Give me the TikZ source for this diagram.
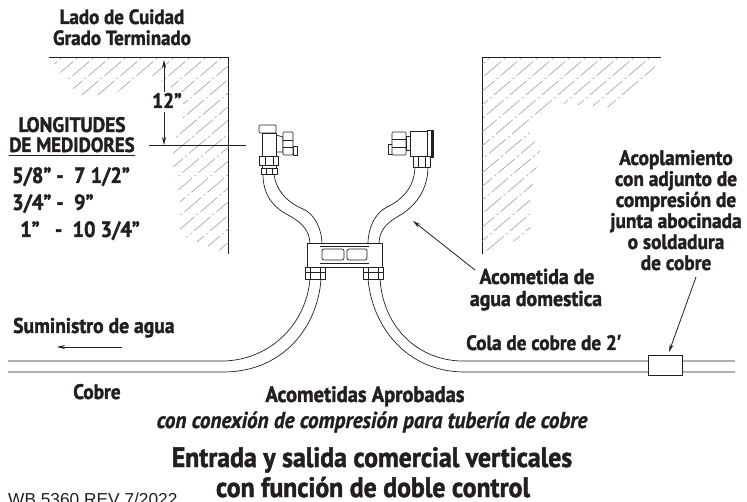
\documentclass[tikz,border=0pt]{standalone}
\usepackage{fontspec}
\setmainfont[FakeStretch=0.92,BoldFont={PT Sans Bold},ItalicFont={PT Sans Italic},BoldItalicFont={PT Sans Bold Italic},BoldFeatures={FakeBold=1.6},BoldItalicFeatures={FakeBold=1.2}]{PT Sans}
\newfontfamily\plainfont{Liberation Sans}
\newfontfamily\primefont[FakeStretch=0.92]{Liberation Sans}
\usetikzlibrary{arrows.meta}
\definecolor{ink}{HTML}{231F20}
\tikzset{
  lbl/.style={anchor=base,inner sep=0pt,text=ink,font=\fontsize{#1}{#1}\selectfont\bfseries},
  wall/.style={draw=ink,line width=1pt},
  hatch/.style={draw=black!40,line width=0.55pt,dash pattern=on 22pt off 3pt on 2pt off 3pt},
  part/.style={draw=ink,line width=0.7pt,fill=white,line join=round},
  pipe/.style={draw=ink,line width=0.7pt},
  lead/.style={draw=ink,line width=0.8pt,-{Stealth[length=8pt,width=4pt]}}
}
\begin{document}
\begin{tikzpicture}[x=1pt,y=-1pt]
\useasboundingbox (0,0) rectangle (747,502);
% walls
\draw[wall] (49,58) -- (228,58) -- (228,254);
\draw[wall] (661,58) -- (482,58) -- (482,254);
\begin{scope}
\clip (228.5,57) -- (49,57) -- (60,72) -- (80,97) -- (110,97) -- (145,72) -- (175,90) -- (183,122) -- (170,150) -- (180,200) -- (180,235) -- (228.5,254) -- cycle;
\foreach \k in {0,...,28}{\draw[hatch] (-220+16*\k,270) -- ++(260,-221);}
\end{scope}
\begin{scope}
\clip (481.5,57) -- (661,57) -- (650,75) -- (615,108) -- (555,103) -- (525,125) -- (540,150) -- (530,200) -- (530,235) -- (481.5,254) -- cycle;
\foreach \k in {0,...,28}{\draw[hatch] (240+16*\k,270) -- ++(260,-221);}
\end{scope}
% dimension
\coordinate (dimT) at (164,60); \coordinate (dimB) at (164,145);
\coordinate (dimM1) at (164,95); \coordinate (dimM2) at (164,112);
\coordinate (refL) at (149,145); \coordinate (refR) at (246,145);
\draw[wall,line width=.8pt] (refL) -- (refR);
\draw[lead] (dimM1) -- (dimT);
\draw[lead] (dimM2) -- (dimB);
% S pipes
\draw[pipe] (263,174) .. controls (263,195) and (273,207) .. (288,215) .. controls (300,221) and (310,230) .. (310,244);
\draw[pipe] (274,174) .. controls (276,192) and (290,204) .. (303,209) .. controls (315,214) and (322,230) .. (322,244);
\draw[pipe] (428,166) .. controls (428,195) and (410,210) .. (397,217) .. controls (385,224) and (379,232) .. (379,244);
\draw[pipe] (415,166) .. controls (415,190) and (398,202) .. (387,207) .. controls (375,213) and (368,228) .. (368,244);
% lower pipes
\draw[pipe] (8,361) -- (225,361) .. controls (270,359) and (306,325) .. (310,279);
\draw[pipe] (8,372) -- (225,372) .. controls (285,371) and (318,325) .. (321,279);
\draw[pipe] (380,279) .. controls (383,325) and (415,359) .. (460,361) -- (735,361);
\draw[pipe] (368,279) .. controls (372,325) and (405,371) .. (463,372) -- (735,372);
% manifold
\draw[part] (307,243) rectangle (382,267);
\draw[pipe] (320,246) -- (369,246) (320,263) -- (369,263);
\draw[part,rounded corners=2pt] (322,249) rectangle (344,260);
\draw[part,rounded corners=2pt] (347,249) rectangle (367,260);
% lower nuts
\draw[part] (305,267) rectangle (325,279);
\draw[pipe] (310,267) -- (310,279) (320,267) -- (320,279) (305,272) -- (325,272);
\draw[part] (363,267) rectangle (383,279);
\draw[pipe] (368,267) -- (368,279) (378,267) -- (378,279) (363,272) -- (383,272);
% left valve
\draw[part,rounded corners=1pt] (259,125) rectangle (276,133);
\draw[part] (293,146) rectangle (297,155);
\draw[part] (276,135) -- (283,137) -- (283,152) -- (276,152) -- cycle;
\draw[part,rounded corners=1pt] (283,132) rectangle (293,155);
\draw[pipe] (283,140) -- (293,140) (283,147) -- (293,147);
\draw[part] (262,133) rectangle (276,157);
\draw[part] (259,156) rectangle (278,165);
\draw[pipe] (265,156) -- (265,165) (273,156) -- (273,165);
\draw[part] (262,165) rectangle (276,168);
\draw[part] (261,168) rectangle (277,174);
\draw[pipe] (266,168) -- (266,174) (272,168) -- (272,174);
% right valve
\draw[part] (388,144) rectangle (392,154);
\draw[part,rounded corners=1pt] (392,132) rectangle (406,155);
\draw[pipe] (392,139) -- (406,139) (392,147) -- (406,147);
\draw[part] (406,136) rectangle (410,150);
\draw[part] (410,131) rectangle (427,156);
\draw[part] (427,130) rectangle (433,157);
\draw[draw=ink,line width=1.6pt] (432,130) -- (432,157);
\draw[part] (413,156) rectangle (430,167);
\draw[pipe] (418,156) -- (418,167) (425,156) -- (425,167);
% coupling
\node[draw=ink,line width=1pt,fill=white,minimum width=34pt,minimum height=20pt,inner sep=0pt] (cpl) at (665,366) {};
% leaders
\coordinate (supA) at (122,347); \coordinate (supB) at (57,347);
\draw[lead] (supA) -- (supB);
\coordinate (acoA) at (475,270); \coordinate (acoB) at (413,221);
\draw[lead] (acoA) -- (acoB);
\coordinate (cplA) at (696,277); \coordinate (cplB) at (669,352);
\draw[lead] (cplA) -- (cplB);
% texts
\node[lbl=20.6] (t1) at (122,24) {Lado de Cuidad};
\node[lbl=20.6] (t2) at (122,45) {Grado Terminado};
\node[lbl=21,fill=white,inner sep=1pt] (t3) at (167,108) {12"};
\node[lbl=21] (t4) at (72,132) {LONGITUDES};
\node[lbl=20.5] (t5) at (72,152) {DE MEDIDORES};
\draw[draw=ink,line width=.8pt] (t5.base west |- 0,155.5) -- (t5.base east |- 0,155.5);
\node[lbl=22,anchor=base west] (t6) at (12,183) {5/8" -\ \ 7 1/2"};
\node[lbl=22,anchor=base west] (t7) at (12,210) {3/4" -\ \ 9"};
\node[lbl=22,anchor=base west] (t8) at (20,237) {1"\ \ \ -\ \ 10 3/4"};
\node[lbl=21] (r1) at (676,165) {Acoplamiento};
\node[lbl=21] (r2) at (676,186) {con adjunto de};
\node[lbl=21] (r3) at (676,207) {compresión de};
\node[lbl=21] (r4) at (676,228) {junta abocinada};
\node[lbl=21] (r5) at (676,249) {o soldadura};
\node[lbl=21] (r6) at (676,270) {de cobre};
\node[lbl=21.5] (a1) at (537,284) {Acometida de};
\node[lbl=21.5] (a2) at (536,306) {agua domestica};
\node[lbl=20.8,anchor=base west] (c1) at (466,350) {Cola de cobre de 2{\primefont\bfseries ′}};
\node[lbl=21.3,anchor=base west] (s1) at (13,333) {Suministro de agua};
\node[lbl=21,anchor=base west] (s2) at (73,399) {Cobre};
\node[lbl=22.3] (b1) at (365,402) {Acometidas Aprobadas};
\node[lbl=23,font=\fontsize{23}{23}\selectfont\bfseries\itshape] (b2) at (372,428) {con conexión de compresión para tubería de cobre};
\node[lbl=28] (b3) at (372,467) {Entrada y salida comercial verticales};
\node[lbl=28] (b4) at (373,497) {con función de doble control};
\node[anchor=base west,inner sep=0pt,text=ink,font=\plainfont\fontsize{17.3}{17.3}\selectfont] (wb) at (8,505) {WB 5360 REV 7/2022};
\end{tikzpicture}
\end{document}
